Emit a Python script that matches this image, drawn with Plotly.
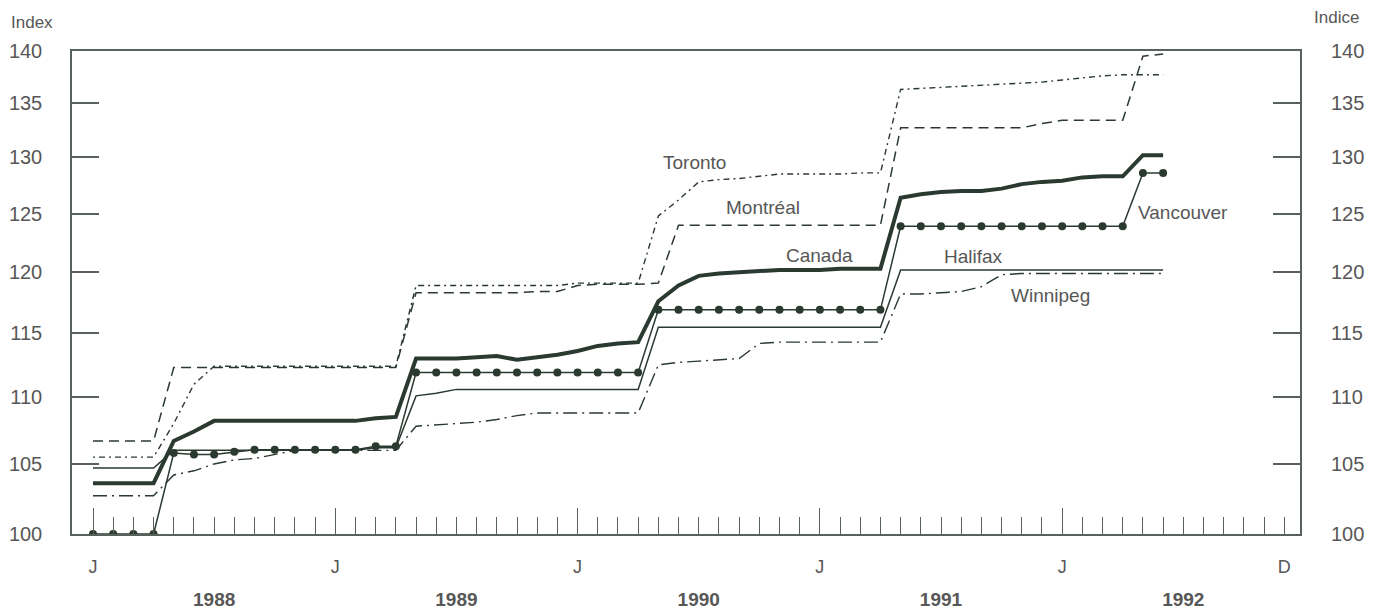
import math
import plotly.graph_objects as go

# ---------------- data (monthly index, Jan 1988 = 0) ----------------
month_index = list(range(54))  # Jan 1988 .. Jun 1992

canada = ([103.6] * 4 + [106.7, 107.4] + [108.2] * 8 + [108.4, 108.5]
          + [113.0, 113.0, 113.0, 113.1, 113.2, 112.9, 113.1, 113.3, 113.6, 114.0, 114.2, 114.3]
          + [117.6, 118.9, 119.7, 119.9, 120.0, 120.1, 120.2, 120.2, 120.2, 120.3, 120.3, 120.3]
          + [126.4, 126.7, 126.9, 127.0, 127.0, 127.2, 127.6, 127.8, 127.9, 128.2, 128.3, 128.3]
          + [130.2, 130.2])

vancouver = ([100.0] * 4 + [105.8, 105.7, 105.7, 105.9] + [106.05] * 6 + [106.3, 106.3]
             + [111.9] * 12
             + [116.9] * 12
             + [123.9] * 12
             + [128.6, 128.6])

halifax = ([104.7] * 4 + [106.0] * 10 + [106.2, 106.2]
           + [110.1, 110.3] + [110.6] * 10
           + [115.5] * 12
           + [120.2] * 14)

montreal = ([106.7] * 4 + [112.3] * 12
            + [118.3] * 6 + [118.4, 118.4, 118.9, 119.0, 119.0, 119.0]
            + [119.1] + [124.0] * 11
            + [132.7] * 7 + [133.1, 133.4, 133.4, 133.4, 133.4]
            + [139.5, 139.7])

toronto = ([105.5] * 4 + [108.0, 111.0] + [112.4] * 10
           + [118.9] * 8 + [119.1] * 4
           + [124.8, 126.2, 127.8, 128.0, 128.1, 128.3, 128.5, 128.5, 128.5, 128.5, 128.6, 128.6]
           + [136.3, 136.4, 136.5, 136.6, 136.7, 136.8, 136.9, 137.0, 137.2, 137.4, 137.6, 137.7]
           + [137.7, 137.7])

winnipeg = ([102.7] * 4 + [104.2, 104.5, 105.0, 105.3, 105.4, 105.7] + [106.0] * 6
            + [107.8, 107.9, 108.0, 108.1, 108.3, 108.6] + [108.8] * 6
            + [112.5, 112.7, 112.8, 112.9, 113.0, 114.2] + [114.3] * 6
            + [118.2, 118.2, 118.3, 118.4, 118.8, 119.8] + [119.9] * 8)

# axis labels
y_ticks = [100, 105, 110, 115, 120, 125, 130, 135, 140]
month_label_pos = [0, 12, 24, 36, 48, 59]
month_label_text = ["J", "J", "J", "J", "J", "D"]
jan_ticks = [0, 12, 24, 36, 48]
other_month_ticks = [m for m in range(60) if m % 12 != 0]
year_pos = [6, 18, 30, 42, 54]
year_text = ["1988", "1989", "1990", "1991", "1992"]

# series labels (month position, index value)
labels = [
    ("Toronto", 29.8, 129.5),
    ("Montréal", 33.2, 125.5),
    ("Canada", 36.0, 121.4),
    ("Halifax", 43.6, 121.3),
    ("Winnipeg", 47.4, 118.1),
    ("Vancouver", 54.0, 125.1),
]

# ---------------- styling ----------------
LINE = "#2b3a30"
AXIS = "#56625a"
TEXT = "#575757"
FONT = "Liberation Sans, Arial, Helvetica, sans-serif"
XR = [-1.04, 59.78]
YR = [2.0, math.log10(140)]

fig = go.Figure()

fig.add_trace(go.Scatter(x=month_index, y=winnipeg, mode="lines", name="Winnipeg",
                         line=dict(color=LINE, width=1.4, dash="14px,5px,2px,5px")))
fig.add_trace(go.Scatter(x=month_index, y=toronto, mode="lines", name="Toronto",
                         line=dict(color=LINE, width=1.4, dash="2px,4px,6px,4px")))
fig.add_trace(go.Scatter(x=month_index, y=montreal, mode="lines", name="Montréal",
                         line=dict(color=LINE, width=1.5, dash="10px,6px")))
fig.add_trace(go.Scatter(x=month_index, y=halifax, mode="lines", name="Halifax",
                         line=dict(color=LINE, width=1.5)))
fig.add_trace(go.Scatter(x=month_index, y=vancouver, mode="lines+markers", name="Vancouver",
                         line=dict(color=LINE, width=1.5),
                         marker=dict(color=LINE, size=8)))
fig.add_trace(go.Scatter(x=month_index, y=canada, mode="lines", name="Canada",
                         line=dict(color=LINE, width=4)))

# empty traces so the overlay axes exist
for ax in ["x2", "x3", "x4"]:
    fig.add_trace(go.Scatter(x=[], y=[], xaxis=ax, yaxis="y", showlegend=False))
fig.add_trace(go.Scatter(x=[], y=[], xaxis="x", yaxis="y2", showlegend=False))

for name, mx, vy in labels:
    fig.add_annotation(x=mx, y=math.log10(vy), text=name, showarrow=False,
                       font=dict(family=FONT, size=19, color=TEXT),
                       xanchor="center", yanchor="middle")

fig.add_annotation(xref="paper", yref="paper", x=-0.0326, y=1.058, text="Index",
                   showarrow=False, font=dict(family=FONT, size=17, color=TEXT),
                   xanchor="center", yanchor="middle")
fig.add_annotation(xref="paper", yref="paper", x=1.030, y=1.070, text="Indice",
                   showarrow=False, font=dict(family=FONT, size=17, color=TEXT),
                   xanchor="center", yanchor="middle")

common_x = dict(range=XR, showgrid=False, zeroline=False, automargin=False)

# the page body adds an 8px offset, so the figure is sized/margined to compensate
fig.update_layout(
    width=1377, height=602,
    margin=dict(l=64, r=85, t=43, b=76),
    paper_bgcolor="white", plot_bgcolor="white",
    showlegend=False,
    font=dict(family=FONT, color=TEXT),
    xaxis=dict(**common_x, showline=True, linecolor=AXIS, linewidth=1.5, mirror=True,
               tickmode="array", tickvals=month_label_pos, ticktext=month_label_text,
               ticks="", ticklabelstandoff=16,
               tickfont=dict(family=FONT, size=18, color=TEXT)),
    xaxis2=dict(**common_x, overlaying="x", anchor="y", side="bottom", showline=False,
                tickmode="array", tickvals=other_month_ticks, ticks="inside",
                ticklen=17, tickwidth=1.3, tickcolor=AXIS, showticklabels=False),
    xaxis3=dict(**common_x, overlaying="x", anchor="y", side="bottom", showline=False,
                tickmode="array", tickvals=jan_ticks, ticks="inside",
                ticklen=26, tickwidth=1.3, tickcolor=AXIS, showticklabels=False),
    xaxis4=dict(**common_x, overlaying="x", anchor="y", side="bottom", showline=False,
                tickmode="array", tickvals=year_pos,
                ticktext=["<b>%s</b>" % t for t in year_text], ticks="",
                ticklabelstandoff=52,
                tickfont=dict(family=FONT, size=19, color=TEXT)),
    yaxis=dict(type="log", range=YR, showgrid=False, zeroline=False, automargin=False,
               showline=True, linecolor=AXIS, linewidth=1.5, mirror="ticks",
               tickmode="array", tickvals=y_ticks, ticktext=[str(v) for v in y_ticks],
               ticks="inside", ticklen=27, tickwidth=1.5, tickcolor=AXIS,
               ticklabelstandoff=24,
               tickfont=dict(family=FONT, size=20, color=TEXT)),
    yaxis2=dict(type="log", range=YR, overlaying="y", anchor="x", side="right",
                showgrid=False, zeroline=False, showline=False, automargin=False,
                tickmode="array", tickvals=y_ticks, ticktext=[str(v) for v in y_ticks],
                ticks="", ticklabelstandoff=30,
                tickfont=dict(family=FONT, size=20, color=TEXT)),
)

fig.write_html("out.html")
